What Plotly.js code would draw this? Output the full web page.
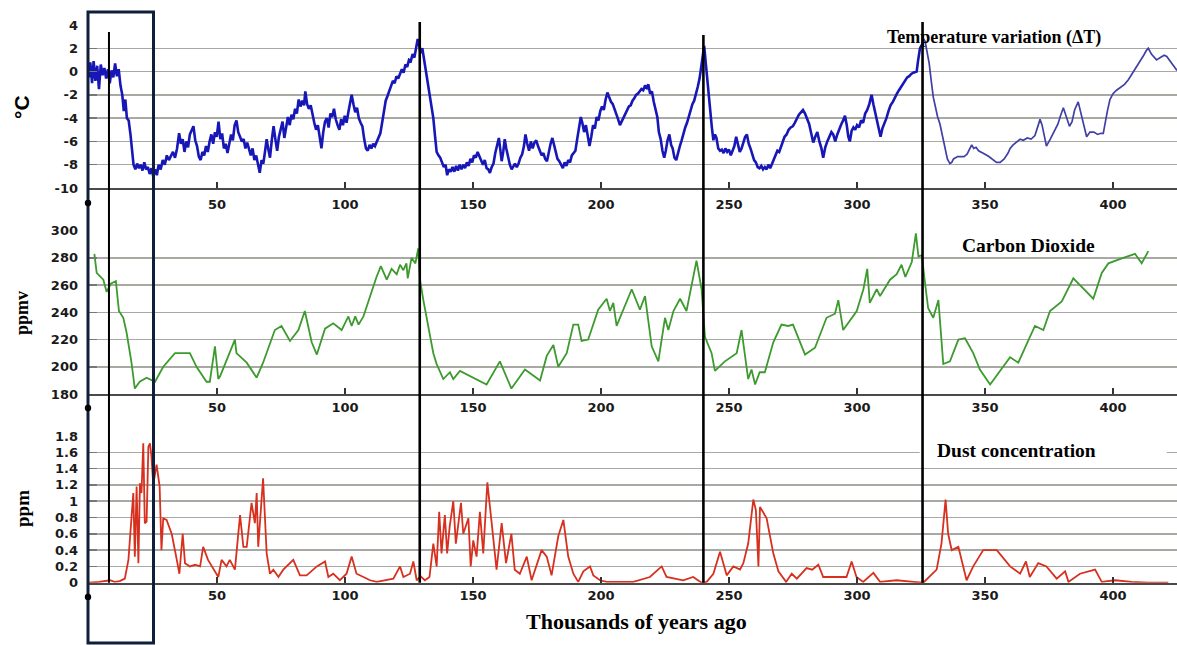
<!DOCTYPE html>
<html>
<head>
<meta charset="utf-8">
<script src="https://cdn.plot.ly/plotly-3.0.1.min.js"></script>
<style>
  html, body { margin: 0; padding: 0; background: #fff; }
  #chart { width: 1177px; height: 645px; }
</style>
</head>
<body>
<div id="chart"></div>
<script>
// Vostok ice core record: temperature anomaly, CO2 and dust over the last ~420 kyr

// Temperature variation (°C), 0 - 325 kyr
const tempAgeRecent = [0,0.5,1.2,1.8,2.5,3.2,3.9,4.6,5.3,6.0,6.7,7.4,8.1,8.8,9.5,10.2,10.9,11.6,12.3,13.0,13.6,14.2,14.8,15.5,16.2,16.8,17.4,18.1,18.8,19.5,20.2,20.9,21.6,22.3,23.0,23.7,24.4,25.1,25.8,26.5,27.2,28.0,28.8,29.6,30.4,31.2,32.0,32.8,33.6,34.4,35.2,35.9,36.6,37.3,38.0,38.7,39.4,40.1,40.8,41.5,42.2,42.9,43.6,44.3,45.0,45.7,46.4,47.1,47.8,48.5,49.2,49.9,50.6,51.3,52.0,52.7,53.4,54.1,54.8,55.5,56.2,56.9,57.6,58.3,59.0,59.7,60.4,61.1,61.8,62.5,63.2,63.9,64.6,65.3,66.0,66.7,67.4,68.1,68.8,69.4,70.0,70.7,71.4,72.1,72.8,73.5,74.2,74.9,75.6,76.3,77.0,77.7,78.4,79.1,79.8,80.5,81.2,81.9,82.6,83.3,84.0,84.5,85.2,85.9,86.6,87.3,88.0,88.7,89.4,90.1,90.8,91.5,92.2,92.9,93.6,94.3,95.0,95.7,96.4,97.1,97.8,98.5,99.2,99.9,100.6,101.3,102.0,102.6,103.3,104.0,104.7,105.4,106.1,106.8,107.5,108.2,108.9,109.6,110.3,111.0,111.7,112.4,113.1,113.8,114.5,115.2,115.9,116.6,117.3,118.0,118.7,119.4,120.1,120.8,121.5,122.2,122.9,123.6,124.3,125.0,125.7,126.4,127.1,127.8,128.4,128.9,129.5,130.2,130.9,131.6,132.4,133.1,133.8,134.5,135.2,135.8,136.5,137.2,137.9,138.6,139.3,139.9,140.6,141.3,142.0,142.7,143.4,144.1,144.8,145.5,146.2,146.9,147.6,148.3,149.0,149.7,150.4,151.1,151.8,152.5,153.2,153.9,154.6,155.3,156.0,156.6,157.3,158.0,158.7,159.4,160.1,160.6,161.2,161.8,162.4,163.0,163.7,164.4,165.1,165.7,166.4,167.1,167.8,168.5,169.2,169.9,170.5,171.2,171.9,172.6,173.3,174.0,174.7,175.4,176.1,176.8,177.5,178.2,178.9,179.6,180.3,181.0,181.6,182.3,183.0,183.7,184.4,185.1,185.8,186.5,187.2,187.9,188.6,189.3,190.0,190.7,191.4,192.1,192.7,193.4,194.1,194.8,195.5,196.2,196.9,197.6,198.3,199.0,199.7,200.4,201.1,201.8,202.5,203.2,203.9,204.6,205.3,206.0,206.7,207.4,208.1,208.8,209.5,210.2,210.9,211.6,212.3,213.0,213.7,214.4,215.1,215.8,216.5,217.2,217.9,218.5,219.2,219.9,220.6,221.3,222.0,222.6,223.3,224.0,224.7,225.3,226.0,226.7,227.4,228.0,228.7,229.4,230.1,230.8,231.5,232.2,232.9,233.6,234.3,235.0,235.7,236.4,237.1,237.8,238.5,239.2,239.8,240.3,240.9,241.5,242.1,242.7,243.3,243.9,244.5,245.1,245.8,246.5,247.2,247.9,248.6,249.3,250.0,250.7,251.4,252.1,252.8,253.5,254.2,254.9,255.6,256.3,257.0,257.7,258.4,259.1,259.8,260.5,261.2,261.9,262.6,263.3,264.0,264.7,265.4,266.1,266.8,267.5,268.2,268.9,269.6,270.3,271.0,271.7,272.5,273.3,274.1,274.9,275.7,276.5,277.3,278.1,278.9,279.7,280.5,281.3,282.1,282.9,283.7,284.5,285.3,286.1,286.8,287.6,288.4,289.2,290.0,290.7,291.5,292.3,293.1,293.9,294.6,295.3,296.0,296.6,297.2,297.9,298.6,299.3,300.0,300.8,301.6,302.4,303.2,304.0,304.8,305.7,306.4,307.2,308.0,308.6,309.2,309.9,310.7,311.5,312.3,313.1,314.0,314.8,315.6,316.4,317.2,318.0,318.8,319.6,320.4,321.2,322.0,322.8,323.3,323.9,324.6,325.3];
const tempRecent = [-0.5,0.8,-1.0,0.9,-0.8,0.5,-1.5,0.6,-0.3,0.3,-0.6,0.2,-1.0,0.1,-0.5,0.7,-0.4,0.2,-1.2,-2.0,-3.4,-2.4,-4.0,-4.2,-5.4,-6.6,-8.0,-8.4,-7.9,-8.3,-8.0,-8.5,-7.8,-8.4,-8.2,-8.8,-8.3,-9.0,-8.4,-8.9,-8.0,-8.4,-7.6,-8.0,-7.2,-7.6,-7.2,-6.9,-7.4,-6.6,-5.3,-6.2,-5.8,-6.9,-6.0,-6.5,-5.4,-5.0,-4.7,-5.9,-6.4,-7.3,-7.6,-6.9,-7.2,-6.4,-6.9,-6.0,-5.4,-6.2,-5.2,-5.6,-4.3,-5.8,-5.3,-6.6,-6.2,-7.0,-6.1,-5.4,-5.9,-4.6,-4.2,-5.2,-5.6,-6.0,-5.8,-6.6,-6.1,-6.8,-7.2,-6.6,-7.6,-7.2,-8.1,-8.7,-7.6,-7.9,-6.8,-5.8,-6.6,-7.4,-5.9,-4.7,-5.8,-6.8,-5.6,-4.9,-4.3,-5.7,-4.8,-3.9,-4.6,-3.7,-4.1,-3.2,-3.6,-2.4,-3.0,-2.5,-2.9,-1.7,-2.8,-3.2,-2.9,-3.8,-4.4,-5.0,-4.6,-5.6,-6.6,-5.2,-4.3,-4.0,-4.8,-3.6,-3.9,-3.2,-4.1,-4.6,-5.0,-4.1,-4.6,-3.8,-4.4,-3.5,-2.6,-2.0,-2.8,-3.5,-3.1,-4.0,-4.4,-4.7,-5.8,-6.6,-6.8,-6.3,-6.6,-6.2,-6.4,-6.0,-5.6,-5.3,-4.4,-3.3,-2.5,-2.1,-1.6,-1.2,-0.8,-1.0,-0.4,-0.6,-0.2,0.2,-0.1,0.6,0.4,1.0,0.9,1.5,1.2,2.2,2.8,2.4,1.6,2.0,1.0,0.1,-0.8,-1.8,-2.9,-4.0,-5.6,-6.9,-7.2,-7.4,-7.8,-8.2,-8.0,-8.9,-8.4,-8.6,-8.2,-8.6,-8.1,-8.5,-8.0,-8.4,-8.0,-8.3,-7.8,-8.1,-7.5,-7.8,-7.2,-7.4,-6.9,-7.3,-7.6,-8.0,-7.6,-8.3,-8.4,-8.7,-8.2,-7.9,-7.0,-6.4,-5.7,-6.6,-7.7,-6.9,-5.8,-6.6,-7.4,-8.0,-8.4,-8.2,-7.9,-8.2,-7.9,-7.4,-7.1,-6.4,-5.4,-6.2,-6.8,-6.0,-6.6,-6.1,-5.9,-6.4,-6.8,-7.2,-7.0,-7.5,-7.7,-6.8,-6.2,-5.7,-6.3,-6.9,-7.5,-7.7,-8.0,-8.3,-7.8,-8.1,-7.6,-7.8,-7.2,-7.0,-6.8,-5.8,-4.8,-3.9,-4.4,-5.2,-4.6,-5.7,-6.4,-5.6,-4.6,-4.9,-3.9,-4.2,-3.4,-3.0,-3.3,-2.4,-1.8,-2.2,-2.6,-2.8,-3.2,-3.7,-4.1,-4.6,-4.3,-3.9,-3.7,-3.4,-3.0,-2.9,-2.5,-2.3,-2.0,-1.9,-1.7,-1.5,-1.6,-1.2,-1.4,-1.1,-1.9,-1.7,-2.6,-3.2,-3.9,-5.2,-5.8,-6.8,-7.4,-6.8,-5.9,-5.4,-6.3,-6.6,-7.4,-7.6,-6.9,-6.4,-5.9,-5.3,-4.8,-4.4,-3.8,-3.4,-2.8,-2.5,-2.0,-1.3,-0.6,0.4,1.6,2.2,0.8,-0.7,-2.4,-3.6,-4.8,-5.9,-5.4,-5.7,-6.6,-6.8,-6.7,-7.0,-6.6,-6.9,-6.7,-7.2,-6.8,-6.4,-5.6,-6.4,-6.9,-6.6,-6.0,-5.6,-5.4,-6.2,-6.6,-7.1,-7.6,-7.8,-8.2,-8.3,-8.1,-8.4,-8.2,-8.4,-8.0,-8.3,-7.9,-7.6,-7.2,-6.8,-6.9,-6.4,-5.9,-5.6,-5.4,-5.0,-4.8,-4.7,-4.4,-4.0,-3.7,-3.5,-3.3,-3.6,-4.0,-4.5,-5.3,-6.1,-5.6,-5.2,-6.0,-6.6,-7.4,-6.5,-6.0,-5.6,-5.2,-5.4,-6.0,-5.4,-4.9,-4.5,-4.2,-3.8,-4.6,-5.6,-6.0,-5.1,-4.8,-5.0,-4.6,-4.8,-4.2,-4.4,-3.6,-3.3,-2.8,-2.0,-2.8,-3.6,-4.4,-5.0,-5.6,-4.9,-4.5,-4.0,-3.4,-2.9,-2.6,-2.2,-1.9,-1.6,-1.3,-1.1,-0.8,-0.5,-0.4,-0.2,-0.1,0.0,0.0,1.0,2.0,2.3];

// Temperature variation (°C), 325 - 425 kyr
const tempAgeOld = [325.3,326.0,326.6,327.4,328.2,329.0,329.8,330.6,331.5,332.4,333.4,334.4,335.3,336.3,337.0,337.7,338.5,339.3,340.5,341.8,343.0,344.0,344.8,345.6,346.5,347.5,348.5,350.0,351.5,353.2,354.5,355.9,357.5,359.0,359.8,361.0,362.5,363.7,365.0,366.5,368.0,369.5,370.8,371.5,372.3,373.2,374.0,375.5,377.0,378.5,379.5,380.6,381.8,383.0,384.0,385.0,386.4,387.5,388.5,389.7,391.0,392.5,394.0,395.3,396.2,397.0,397.8,398.8,400.0,401.4,403.0,404.5,406.0,407.5,409.2,410.5,412.0,413.0,413.8,415.0,416.0,417.0,418.5,420.0,421.0,422.5,424.0,425.0];
const tempOld = [2.3,2.8,2.6,1.6,0.7,-0.8,-2.2,-3.0,-3.9,-4.5,-5.6,-6.6,-7.5,-7.9,-7.8,-7.5,-7.4,-7.3,-7.3,-7.3,-7.1,-6.7,-6.3,-6.6,-6.5,-6.8,-6.9,-7.1,-7.3,-7.6,-7.8,-7.8,-7.5,-7.0,-6.6,-6.3,-6.0,-5.8,-5.9,-5.7,-5.8,-5.5,-4.6,-4.1,-4.6,-5.6,-6.4,-5.8,-5.2,-4.5,-3.8,-3.1,-3.9,-4.7,-4.3,-3.3,-2.6,-3.6,-4.7,-5.6,-5.2,-5.2,-5.4,-5.3,-5.3,-4.5,-3.4,-2.4,-1.9,-1.6,-1.3,-1.1,-0.7,-0.2,0.4,0.9,1.4,1.8,2.0,1.5,1.2,1.0,1.2,1.4,1.3,0.8,0.4,0.1];

// Carbon dioxide (ppmv)
const co2Age = [2.1,3.0,5.6,6.9,8.5,10.5,11.7,13.4,14.7,16.6,17.9,19.8,22.5,25.8,29.0,33.6,39.4,42.0,45.9,47.2,49.2,50.5,51.2,57.0,57.6,61.6,65.5,68.0,72.6,75.2,78.5,81.8,84.3,87.0,89.0,92.2,95.4,98.7,101.3,102.6,104.0,105.3,107.2,109.8,112.3,114.0,116.3,118.2,120.2,121.5,122.8,124.0,124.5,126.0,127.5,128.6,129.3,130.6,134.5,135.8,138.4,141.0,142.3,144.9,155.3,160.5,165.0,170.3,176.2,178.8,181.4,183.3,186.6,189.2,191.1,192.4,195.0,198.9,202.2,203.5,204.8,206.1,210.0,212.0,215.2,217.2,219.8,222.4,225.0,226.3,228.3,230.9,233.4,235.4,237.3,239.3,240.6,243.2,244.5,248.4,253.0,254.9,256.2,257.5,258.8,260.2,262.0,264.0,267.3,270.5,273.1,275.0,279.7,283.6,288.1,291.4,292.7,294.6,299.9,302.5,304.0,305.0,307.7,309.0,312.9,315.5,317.4,318.9,321.4,323.0,324.0,325.3,326.6,327.8,329.8,331.8,333.7,336.3,339.6,342.2,345.4,348.0,352.0,355.9,359.8,363.0,369.5,372.8,375.4,380.0,384.5,387.1,392.3,395.6,398.2,404.0,408.6,411.2,413.8];
const co2 = [283,269,264,255,261,263,241,236,225,203,184,189,192,189,200,210,210,200,189,189,215,191,193,220,210,203,192,203,227,230,219,227,241,218,209,228,232,227,237,230,237,231,237,252,266,274,264,272,268,275,271,276,265,280,276,287,264,249,210,202,191,196,191,197,187,204,184,198,190,208,216,200,210,231,231,219,220,242,250,241,247,230,247,257,242,252,215,204,236,227,241,250,241,259,278,257,222,210,197,204,210,227,210,191,198,187,196,196,218,231,230,231,209,214,236,239,249,227,241,257,272,247,257,252,264,268,275,266,277,298,281,282,261,243,236,249,202,204,220,221,210,198,187,197,207,203,230,227,241,248,265,260,250,269,276,280,283,276,285];

// Dust concentration (ppm)
const dustAge = [0,4,8.2,10,12,14,15.4,16.6,17.3,17.9,18.6,19.3,19.9,20.5,21.2,21.8,22.5,23.2,23.8,24.4,25.1,26.4,27.6,28.3,29.0,30.3,32.3,34.3,35.3,36.6,37.5,39.4,41.5,43.4,44.6,46.5,48.6,50.5,51.8,53.7,55.0,57.0,59.0,60.3,61.6,63.5,64.8,65.5,66.1,68.0,69.4,70.7,72.0,74.0,75.9,79.8,82.4,85.0,89.0,92.2,93.5,95.4,98.0,100.6,102.6,104.5,107.2,109.8,112.4,116.3,118.9,121.5,122.8,125.4,126.7,128.0,129.5,131.2,133.0,134.5,135.8,136.8,137.7,139.0,139.9,140.9,142.3,143.3,144.2,145.3,146.2,148.2,149.1,150.1,151.4,152.7,154.0,155.6,157.3,159.2,161.2,162.9,165.0,166.3,168.3,171.0,172.9,176.8,178.8,180.7,183.3,185.3,187.2,189.2,191.1,193.1,195.7,197.0,199.6,202.2,212.6,219.1,223.7,225.6,232.1,236.0,239.3,241.3,243.9,246.5,249.1,251.7,254.3,255.6,257.5,259.5,260.5,261.5,262.1,264.7,267.3,269.3,272.3,274.5,276.5,280.3,282.5,284.9,286.8,293.3,295.9,297.9,299.8,302.4,306.4,309.0,315.5,322.0,325.9,331.1,333.0,334.6,335.6,337.0,339.6,342.8,345.4,349.3,354.6,359.8,363.7,366.0,367.5,370.8,374.0,378.0,381.3,382.6,387.1,393.0,395.6,400.8,407.3,413.8,421.6];
const dust = [0,0.01,0.03,0.01,0.02,0.05,0.28,0.81,1.1,0.32,1.18,0.24,1.22,1.1,1.71,0.73,0.75,1.67,1.71,1.55,1.2,1.45,1.18,0.4,0.79,0.77,0.6,0.28,0.11,0.6,0.24,0.2,0.22,0.2,0.44,0.28,0.16,0.07,0.28,0.2,0.28,0.16,0.83,0.44,0.44,0.98,0.73,1.1,0.44,1.28,0.36,0.11,0.16,0.07,0.16,0.28,0.09,0.09,0.2,0.26,0.07,0.11,0.03,0.11,0.32,0.11,0.07,0.03,0.01,0.03,0.05,0.2,0.07,0.11,0.26,0.03,0.08,0.03,0.07,0.48,0.2,0.87,0.36,0.83,0.36,0.69,1.0,0.48,0.73,0.98,0.6,0.79,0.2,0.52,0.32,0.87,0.36,1.23,0.73,0.16,0.73,0.24,0.6,0.16,0.11,0.32,0.03,0.4,0.32,0.09,0.57,0.77,0.32,0.11,0.01,0.14,0.2,0.09,0.03,0.01,0.01,0.07,0.2,0.07,0.03,0.07,0,0.01,0.11,0.38,0.09,0.2,0.16,0.24,0.48,1.02,0.89,0.2,0.93,0.79,0.36,0.14,0.01,0.11,0.05,0.18,0.16,0.22,0.07,0.07,0.07,0.26,0.07,0.01,0.12,0.01,0.03,0.01,0,0.16,0.48,1.02,0.6,0.4,0.44,0.03,0.2,0.4,0.4,0.2,0.11,0.26,0.07,0.24,0.2,0.05,0.14,0.01,0.11,0.16,0.01,0.03,0.01,0,0];

// Axis ticks and labels
const xTickVals = [50, 100, 150, 200, 250, 300, 350, 400];
const tempTickVals = [-10, -8, -6, -4, -2, 0, 2, 4];
const tempTickText = ['-10', '-8', '-6', '-4', '-2', '0', '2', '4'];
const co2TickVals = [180, 200, 220, 240, 260, 280, 300];
const dustTickVals = [0, 0.2, 0.4, 0.6, 0.8, 1, 1.2, 1.4, 1.6, 1.8];
const dustTickText = ['0', '0.2', '0.4', '0.6', '0.8', '1', '1.2', '1.4', '1.6', '1.8'];

// Marker lines at interglacial peaks (kyr ago)
const peakAges = [7.8, 129.2, 240.0, 325.6];

const W = 1177, H = 645, L = 89;
const py = p => 1 - p / H;          // pixel row -> paper y
const px = p => (p - L) / (W - L);  // pixel column -> paper x

const tickFont = { family: 'DejaVu Sans, sans-serif', size: 13, color: '#1a1a1a', weight: 'bold' };
const serif = 'Liberation Serif, Times New Roman, serif';

function xAxis(anchor, standoff) {
  return {
    anchor: anchor, domain: [0, 1], range: [0, 425],
    tickmode: 'array', tickvals: xTickVals,
    ticks: 'inside', ticklen: 6, tickwidth: 2, tickcolor: '#333',
    showline: true, linecolor: '#4a4a4a', linewidth: 2,
    showgrid: false, zeroline: false, tickfont: tickFont,
    ticklabelstandoff: standoff
  };
}
function yAxis(anchor, domain, range, vals, text) {
  const ax = {
    anchor: anchor, domain: domain, range: range,
    tickmode: 'array', tickvals: vals,
    ticks: 'inside', ticklen: 8, tickwidth: 1.5, tickcolor: '#777',
    showgrid: true, gridcolor: '#a9a9a3', gridwidth: 1.5,
    zeroline: false, showline: false, tickfont: tickFont,
    ticklabelstandoff: 10
  };
  if (text) ax.ticktext = text;
  return ax;
}

const traces = [
  { x: tempAgeRecent, y: tempRecent, xaxis: 'x', yaxis: 'y', mode: 'lines',
    line: { color: '#1717b8', width: 2.6 } },
  { x: tempAgeOld, y: tempOld, xaxis: 'x', yaxis: 'y', mode: 'lines',
    line: { color: '#4040a6', width: 1.7 } },
  { x: co2Age, y: co2, xaxis: 'x2', yaxis: 'y2', mode: 'lines',
    line: { color: '#3d9a2e', width: 1.8 } },
  { x: dustAge, y: dust, xaxis: 'x3', yaxis: 'y3', mode: 'lines',
    line: { color: '#d8301e', width: 1.8 } }
];

const shapes = [];
// white panel behind the dust label
shapes.push({ type: 'rect', xref: 'x3', yref: 'y3', x0: 324.5, x1: 421, y0: 1.52, y1: 1.68,
  fillcolor: '#ffffff', line: { width: 0 }, layer: 'between' });
// interglacial marker lines
const lineTops = [32, 22, 35, 22];
peakAges.forEach((a, i) => {
  shapes.push({ type: 'line', xref: 'x', yref: 'paper', x0: a, x1: a,
    y0: py(582.7), y1: py(lineTops[i]),
    line: { color: '#000000', width: i === 0 ? 2 : 2.6 } });
});
// highlight box over the last glacial period
shapes.push({ type: 'rect', xref: 'paper', yref: 'paper',
  x0: px(88), x1: px(153.5), y0: py(643), y1: py(12),
  line: { color: '#0f1e3a', width: 3 }, fillcolor: 'rgba(0,0,0,0)' });
// origin dots on each time axis
[203, 408, 597].forEach(r => {
  shapes.push({ type: 'circle', xref: 'paper', yref: 'paper',
    x0: px(84.8), x1: px(91.2), y0: py(r + 3.2), y1: py(r - 3.2),
    fillcolor: '#000', line: { width: 0 } });
});

const annotations = [
  { text: 'Temperature variation (ΔT)', x: px(994), y: py(38),
    font: { family: serif, size: 18, color: '#000', weight: 'bold' } },
  { text: 'Carbon Dioxide', x: px(1028), y: py(245),
    font: { family: serif, size: 19.5, color: '#000', weight: 'bold' } },
  { text: 'Dust concentration', x: px(1016), y: py(450),
    font: { family: serif, size: 19.5, color: '#000', weight: 'bold' } },
  { text: 'Thousands of years ago', x: px(636), y: py(621),
    font: { family: serif, size: 22, color: '#000', weight: 'bold' } },
  { text: '°C', x: px(22), y: py(107), textangle: -90,
    font: { family: 'Liberation Sans, Arial, sans-serif', size: 21, color: '#000', weight: 'bold' } },
  { text: 'ppmv', x: px(22), y: py(313), textangle: -90,
    font: { family: serif, size: 18, color: '#000', weight: 'bold' } },
  { text: 'ppm', x: px(22), y: py(509), textangle: -90,
    font: { family: serif, size: 19, color: '#000', weight: 'bold' } }
].map(a => Object.assign({ xref: 'paper', yref: 'paper', showarrow: false,
  xanchor: 'center', yanchor: 'middle' }, a));

const layout = {
  width: W, height: H,
  margin: { l: L, r: 0, t: 0, b: 0 },
  paper_bgcolor: '#ffffff', plot_bgcolor: '#ffffff',
  showlegend: false, hovermode: false,
  xaxis: xAxis('y', 3),
  xaxis2: Object.assign(xAxis('y2', 0), { matches: 'x' }),
  xaxis3: Object.assign(xAxis('y3', 0), { matches: 'x' }),
  yaxis: yAxis('x', [py(188), py(25)], [-10, 4], tempTickVals, tempTickText),
  yaxis2: yAxis('x2', [py(394), py(230.7)], [180, 300], co2TickVals),
  yaxis3: yAxis('x3', [py(582.7), py(436)], [0, 1.8], dustTickVals, dustTickText),
  shapes: shapes,
  annotations: annotations
};

Plotly.newPlot('chart', traces, layout, { displayModeBar: false, staticPlot: true });
</script>
</body>
</html>
